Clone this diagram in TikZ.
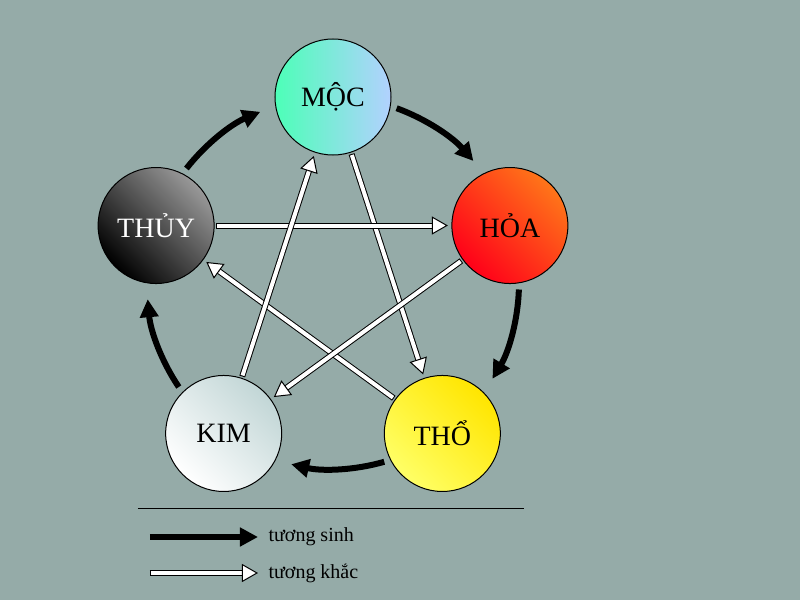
\documentclass[tikz,border=0pt]{standalone}
\usepackage{fontspec}
\setmainfont{Liberation Serif}
\usetikzlibrary{arrows.meta,calc}
\definecolor{bg}{HTML}{95ABA8}

\newcommand\khac[2]{%
  \coordinate (s) at ($(#1)!60pt!(#2)$);
  \coordinate (e) at ($(#2)!62pt!(#1)$);
  \draw[line width=6pt, shorten >=12pt] (s) -- (e);
  \draw[line width=4pt, white, shorten >=11pt, shorten <=1pt] (s) -- (e);
  \draw[line width=1pt, -{Triangle[length=16pt,width=18pt,fill=white]}] ($(e)!16pt!(s)$) -- (e);
}
\newcommand\tsinh[2]{%
  \draw[line width=6pt, -{Triangle[length=18pt,width=18pt]}]
    (c) ++(#1-20:186) arc[start angle=#1-20, end angle=#2+23, radius=186];
}

\begin{document}
\begin{tikzpicture}[x=1pt,y=1pt,
    hanh/.style={circle, draw, line width=1pt, minimum size=116pt, inner sep=0pt,
      font=\fontsize{28}{30}\selectfont, shading angle=45}]
  % background
  \fill[bg] (-333,-317) rectangle (467,283);
  \useasboundingbox (-333,-317) rectangle (467,283);
  \coordinate (c) at (0,0);
  % elements
  \node[hanh, left color=cyan!60!green!70!white, right color=cyan!40!blue!30!white] (moc) at (90:186) {MỘC};
  \node[hanh, left color=red!90!magenta, right color=orange!80!red!90!white, shading angle=135] (hoa) at (18:186) {HỎA};
  \node[hanh, left color=yellow!60!white, right color=yellow!80!orange, shading angle=135] (tho) at (-54:186) {THỔ};
  \node[hanh, left color=white, right color=cyan!20!gray!40!white, shading angle=135] (kim) at (-126:186) {KIM};
  \node[hanh, text=white, left color=black, right color=gray!80!white, shading angle=135] (thuy) at (162:186) {THỦY};
  % tuong sinh
  \tsinh{90}{18}
  \tsinh{18}{-54}
  \tsinh{-54}{-126}
  \tsinh{-126}{-198}
  \tsinh{162}{90}
  % tuong khac
  \khac{moc}{tho}
  \khac{tho}{thuy}
  \khac{thuy}{hoa}
  \khac{hoa}{kim}
  \khac{kim}{moc}
  % legend
  \draw[line width=0.8pt] (-195,-225) -- (191,-225);
  \coordinate (l1) at (-183,-254);
  \coordinate (l2) at (-75,-254);
  \draw[line width=6pt, -{Triangle[length=18pt,width=18pt]}] (l1) -- (l2);
  \node[anchor=west, font=\fontsize{20}{22}\selectfont] (ts) at (-68,-254) {tương sinh};
  \coordinate (k1) at (-183,-290);
  \draw[line width=6pt] (k1) -- ++(92,0);
  \draw[line width=4pt, white] ($(k1)+(1,0)$) -- ++(92,0);
  \draw[line width=1pt, -{Triangle[length=16pt,width=18pt,fill=white]}] (-91,-290) -- (-75,-290);
  \node[anchor=west, font=\fontsize{20}{22}\selectfont] (tk) at (-68,-290) {tương khắc};
\end{tikzpicture}
\end{document}
